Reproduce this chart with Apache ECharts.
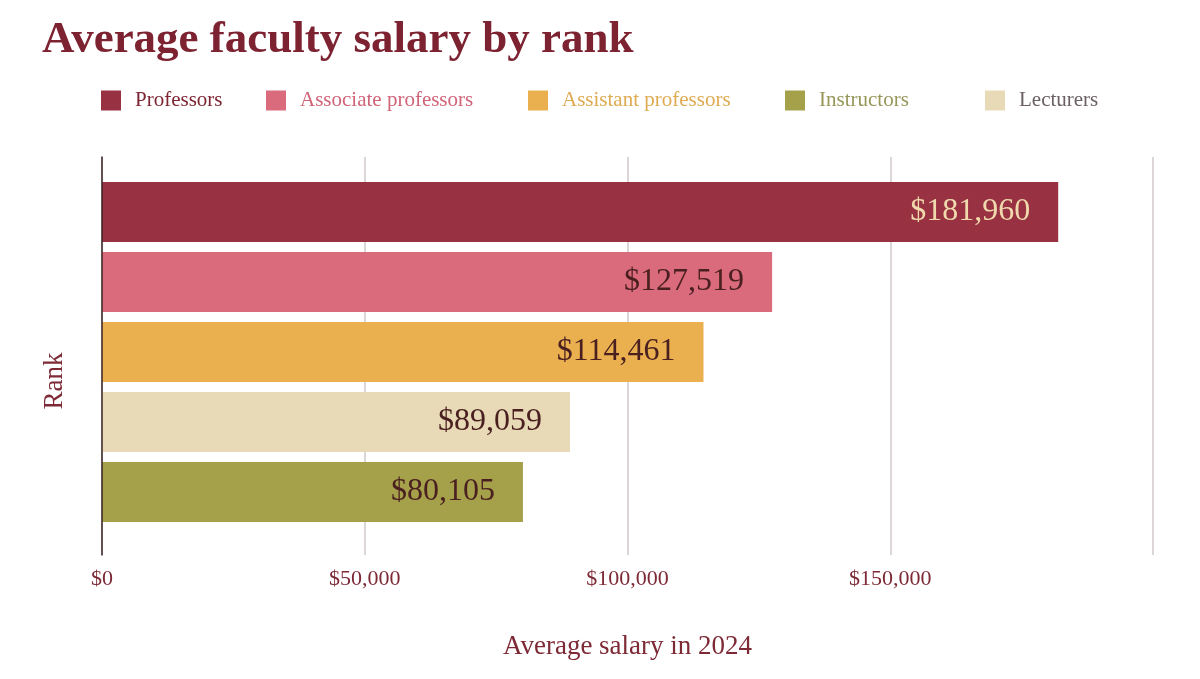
<!DOCTYPE html>
<html>
<head>
<meta charset="utf-8">
<script src="https://cdn.jsdelivr.net/npm/echarts@6/dist/echarts.min.js"></script>
<style>
    html, body { margin: 0; padding: 0; background: #ffffff; }
    #chart { width: 1200px; height: 679px; }
</style>
</head>
<body>
<div id="chart"></div>
<script>
    // bars, top to bottom
    const ranks = ['Professors', 'Associate professors', 'Assistant professors', 'Lecturers', 'Instructors'];
    const salaries = [181960, 127519, 114461, 89059, 80105];
    // legend reads in a different order than the bars
    const legendOrder = ['Professors', 'Associate professors', 'Assistant professors', 'Instructors', 'Lecturers'];
    const xTicks = [0, 50000, 100000, 150000, 200000];

    const barColors = {
        'Professors': '#983242',
        'Associate professors': '#da6b7d',
        'Assistant professors': '#eab050',
        'Instructors': '#a5a14b',
        'Lecturers': '#e8dab6'
    };
    const legendTextColors = {
        'Professors': '#7d2533',
        'Associate professors': '#d06478',
        'Assistant professors': '#deab52',
        'Instructors': '#97975a',
        'Lecturers': '#6b6065'
    };
    const legendLeft = [101, 266, 528, 785, 985];

    const serif = '"Liberation Serif", "DejaVu Serif", serif';
    const fmt = v => '$' + v.toLocaleString('en-US');

    const myChart = echarts.init(document.getElementById('chart'));

    const series = legendOrder.map(name => {
        const idx = ranks.indexOf(name);
        return {
            name: name,
            type: 'bar',
            stack: 'rank',
            xAxisIndex: 1,
            yAxisIndex: 1,
            barWidth: 60,
            itemStyle: {color: barColors[name]},
            label: {
                show: true,
                position: 'insideRight',
                distance: 28,
                fontFamily: serif,
                fontSize: 32,
                color: name === 'Professors' ? '#efd9ad' : '#4a1f20',
                formatter: p => fmt(p.value)
            },
            data: ranks.map((r, i) => i === idx ? salaries[i] : '-')
        };
    });

    const option = {
        animation: false,
        backgroundColor: '#ffffff',
        title: {
            text: 'Average faculty salary by rank',
            left: 37,
            top: 13,
            textStyle: {
                fontFamily: serif,
                fontWeight: 'bold',
                fontSize: 45,
                color: '#7d2230'
            }
        },
        legend: legendOrder.map((name, i) => ({
            data: [name],
            left: legendLeft[i],
            top: 90,
            padding: 0,
            itemWidth: 20,
            itemHeight: 20,
            icon: 'rect',
            selectedMode: false,
            textStyle: {
                fontFamily: serif,
                fontSize: 21,
                color: legendTextColors[name],
                padding: [3, 0, 0, 9]
            }
        })),
        grid: [
            {left: 102, right: 47, top: 157, bottom: 124},
            {left: 102, right: 47, top: 177, height: 350}
        ],
        xAxis: [
            {
                type: 'value',
                gridIndex: 0,
                min: xTicks[0],
                max: xTicks[xTicks.length - 1],
                interval: 50000,
                axisLine: {show: false},
                axisTick: {show: false},
                splitLine: {lineStyle: {color: '#d0c8ca', width: 1.5}},
                axisLabel: {
                    margin: 13,
                    fontFamily: serif,
                    fontSize: 22,
                    color: '#7d2a36',
                    formatter: v => v === xTicks[xTicks.length - 1] ? '' : fmt(v)
                },
                name: 'Average salary in 2024',
                nameLocation: 'middle',
                nameGap: 78,
                nameTextStyle: {fontFamily: serif, fontSize: 27, color: '#7d2a36'}
            },
            {
                type: 'value',
                gridIndex: 1,
                min: xTicks[0],
                max: xTicks[xTicks.length - 1],
                show: false
            }
        ],
        yAxis: [
            {
                type: 'value',
                gridIndex: 0,
                z: 5,
                axisLine: {show: true, lineStyle: {color: '#3b2526', width: 1.5}},
                axisTick: {show: false},
                axisLabel: {show: false},
                splitLine: {show: false},
                name: 'Rank',
                nameLocation: 'middle',
                nameGap: 34,
                nameTextStyle: {fontFamily: serif, fontSize: 27, color: '#7d2a36', padding: [0, 50, 0, 0]}
            },
            {
                type: 'category',
                gridIndex: 1,
                inverse: true,
                data: ranks,
                show: false
            }
        ],
        series: series
    };

    myChart.setOption(option);
</script>
</body>
</html>
